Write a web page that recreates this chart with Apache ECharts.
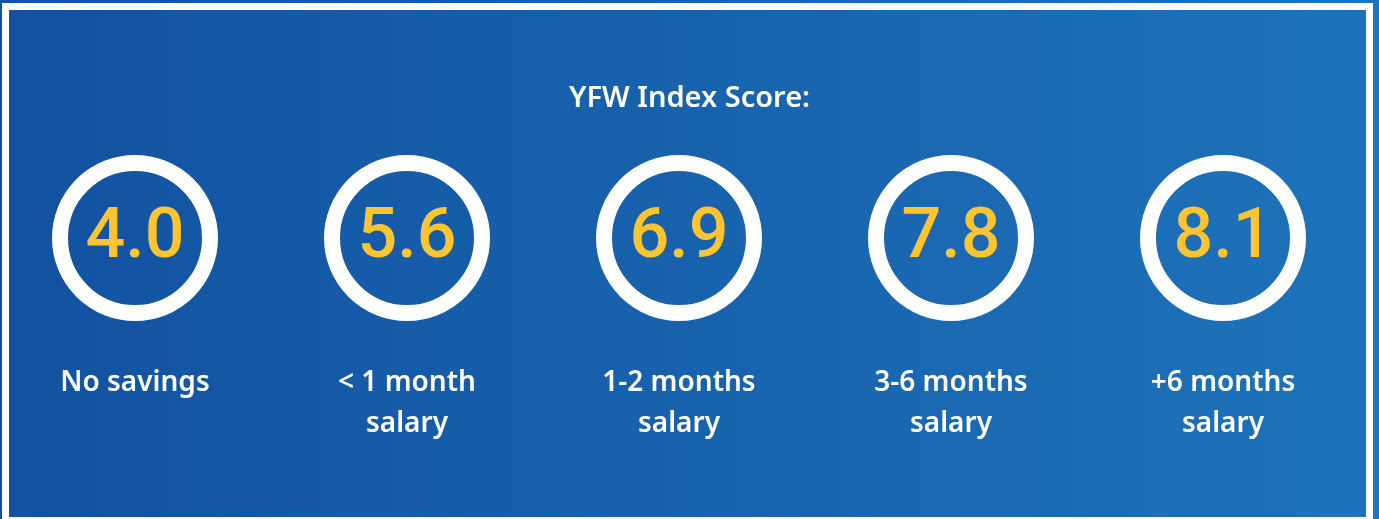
<!DOCTYPE html>
<html>
<head>
<meta charset="utf-8">
<title>YFW Index Score</title>
<script src="https://cdn.jsdelivr.net/npm/echarts@6/dist/echarts.min.js"></script>
<style>
  html, body { margin: 0; padding: 0; background: #1a63ad; }
  #chart { width: 1379px; height: 519px; }
</style>
</head>
<body>
<div id="chart"></div>
<script>
// savings groups and their index scores
const categories = ['No savings', '< 1 month\nsalary', '1-2 months\nsalary', '3-6 months\nsalary', '+6 months\nsalary']
const scores = [4.0, 5.6, 6.9, 7.8, 8.1]
const titleText = 'YFW Index Score:'

const chart = echarts.init(document.getElementById('chart'))

chart.setOption({
  animation: false,
  backgroundColor: {
    type: 'linear', x: 0, y: 0, x2: 1, y2: 0,
    colorStops: [
      { offset: 0, color: '#1252a0' },
      { offset: 1, color: '#1e73ba' }
    ]
  },
  title: {
    text: titleText,
    left: 'center',
    top: 79,
    textStyle: {
      color: '#ffffff',
      fontFamily: 'Noto Sans',
      fontWeight: 600,
      fontSize: 29
    }
  },
  graphic: [
    {
      // white frame
      type: 'rect',
      z: 0,
      shape: { x: 5.5, y: 6.5, width: 1364, height: 514 },
      style: { fill: 'none', stroke: '#ffffff', lineWidth: 7 }
    }
  ],
  grid: {
    left: 135,
    right: 156,
    top: 158,
    bottom: 201
  },
  xAxis: {
    type: 'category',
    data: categories,
    boundaryGap: false,
    axisLine: { show: false },
    axisTick: { show: false },
    splitLine: { show: false },
    axisLabel: {
      interval: 0,
      margin: 45,
      color: '#ffffff',
      fontFamily: 'Noto Sans',
      fontWeight: 600,
      fontSize: 28,
      lineHeight: 41
    }
  },
  yAxis: {
    type: 'value',
    min: -1,
    max: 1,
    show: false
  },
  series: [
    {
      type: 'scatter',
      symbol: 'circle',
      symbolSize: 150,
      itemStyle: {
        color: 'rgba(0,0,0,0)',
        borderColor: '#ffffff',
        borderWidth: 16,
        opacity: 1
      },
      label: {
        show: true,
        position: 'inside',
        offset: [0, 1],
        formatter: p => p.value[2].toFixed(1),
        color: '#fcc431',
        fontFamily: 'Roboto',
        fontWeight: 500,
        fontSize: 70
      },
      emphasis: { disabled: true },
      data: scores.map((s, i) => [categories[i], 0, s])
    }
  ]
})
</script>
</body>
</html>
